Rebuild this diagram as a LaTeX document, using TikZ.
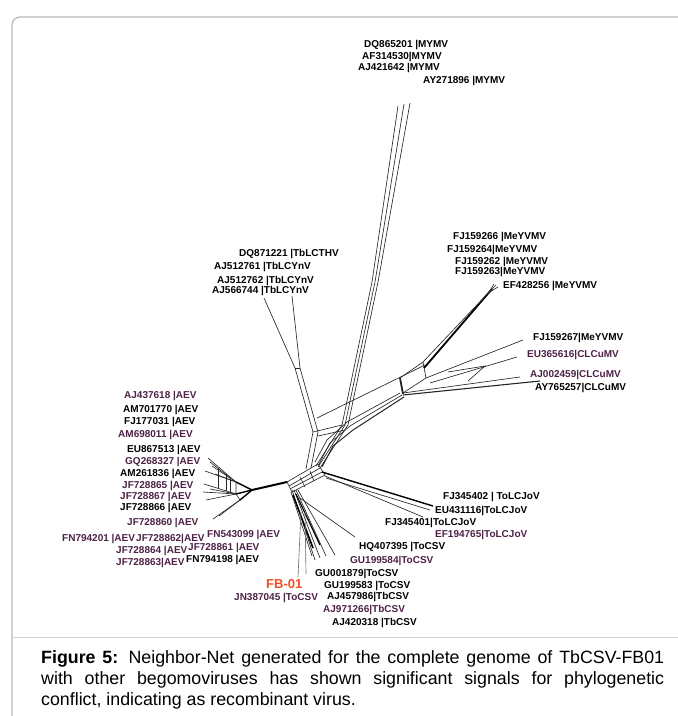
\documentclass[tikz,border=0pt]{standalone}
\usepackage{fontspec}
\usepackage{xcolor}
\usepackage{tikz}
\setmainfont{Liberation Sans}
\definecolor{labpurple}{rgb}{0.30, 0.13, 0.27}
\definecolor{fbred}{rgb}{0.94, 0.31, 0.14}
\definecolor{framegray}{rgb}{0.72, 0.72, 0.72}
\newcommand{\labfont}{\fontsize{10}{11}\selectfont\bfseries}
\tikzset{
    lab/.style = {anchor = west, inner sep = 0pt, font = \labfont},
    labp/.style = {lab, text = labpurple},
    edge/.style = {line width = 0.65pt, black!85},
    thickedge/.style = {line width = 1.4pt, black}
}

\begin{document}
\begin{tikzpicture}[x=1pt, y=-1pt]

    \useasboundingbox (0,0) rectangle (678,716);

    % Frame
    \draw[framegray, line width=1.2pt, rounded corners=8pt] (12,716) -- (12,17) -- (690,17);
    \draw[framegray!60, line width=0.6pt] (12,637) -- (678,637);

    % Centre box
    \draw[edge] (287,482) -- (318,464) -- (325,475) -- (292,492) -- cycle;
    \draw[edge] (289,486) -- (320,468);
    \draw[edge] (290,489) -- (322,472);
    \draw[edge] (300,477) -- (305,487);
    \draw[edge] (310,471) -- (314,481);

    % TbLCYnV / TbLCTHV branch
    \draw[edge] (306,469) -- (313,432) -- (295,368) -- (264,298);
    \draw[edge] (311,468) -- (318,432) -- (300,368) -- (292,296);
    \draw[edge] (295,368) -- (300,368);

    % MYMV branch
    \draw[edge] (316,466) -- (342,425) -- (372,282) -- (398,106);
    \draw[edge] (318,467) -- (345,425) -- (375,282) -- (404,104);
    \draw[edge] (320,468) -- (348,425) -- (378,282) -- (410,103);
    \draw[edge] (313,432) -- (342,425);
    \draw[edge] (318,436) -- (345,430);

    % Main bundle to CLCuMV / MeYVMV
    \draw[edge] (315,462) -- (327,440) -- (347,422) -- (400,393);
    \draw[edge] (319,464) -- (330,443) -- (350,426) -- (402,395);
    \draw[edge, line width=1pt] (322,467) -- (333,446) -- (353,430) -- (404,397);
    \draw[edge] (317,418) -- (425,365);

    % Split box at the junction
    \draw[edge, line width=1.8pt] (400,378) -- (403,394);
    \draw[edge] (400,378) -- (423,362) -- (426,378) -- (403,393);

    % MeYVMV
    \draw[thickedge, line width=1.8pt] (424,368) -- (492,289);
    \draw[edge] (423,362) -- (492,289);
    \draw[edge] (485,296) -- (496,285);
    \draw[edge] (488,294) -- (494,284);
    \draw[edge] (488,293) -- (498,287);

    % CLCuMV
    \draw[edge] (426,378) -- (523,340);
    \draw[edge] (430,383) -- (517,357);
    \draw[edge] (403,393) -- (520,377);
    \draw[edge, line width=1.1pt] (403,395) -- (540,381);
    \draw[edge] (448,372) -- (485,366) -- (468,381);

    % ToLCJoV
    \draw[thickedge] (322,472) -- (433,506);
    \draw[edge] (325,476) -- (423,517);
    \draw[edge] (326,478) -- (430,510);

    % ToCSV / TbCSV
    \draw[edge] (292,490) -- (315,560);
    \draw[edge] (294,490) -- (320,558);
    \draw[edge] (296,490) -- (326,556);
    \draw[edge] (298,490) -- (335,555);
    \draw[edge] (291,492) -- (312,556);
    \draw[thickedge, line width=1.6pt] (293,495) -- (313,548);
    \draw[thickedge, line width=1.2pt] (296,494) -- (320,545);
    \draw[edge] (300,498) -- (355,537);

    % FB-01
    \draw[edge, black!55] (301,512) -- (298,577);
    \draw[edge, black!55] (305,512) -- (306,574);

    % AEV
    \draw[thickedge, line width=2pt] (287,482) -- (252,490);
    \draw[thickedge] (252,490) -- (236,482);
    \draw[thickedge] (252,490) -- (236,494);
    \draw[thickedge] (252,490) -- (240,500);
    \draw[edge] (236,482) -- (208,458);
    \draw[edge] (236,482) -- (212,466);
    \draw[edge] (236,482) -- (205,471);
    \draw[edge] (236,482) -- (215,474);
    \draw[edge] (230,478) -- (210,462);
    \draw[edge] (236,494) -- (204,484);
    \draw[edge] (236,494) -- (203,492);
    \draw[edge] (236,494) -- (206,500);
    \draw[edge] (236,494) -- (210,489);
    \draw[edge] (240,500) -- (213,519);
    \draw[edge] (240,500) -- (219,516);
    \draw[edge] (236,482) -- (236,494) -- (240,500);
    \draw[edge] (226,474) -- (226,491);
    \draw[edge] (218,468) -- (218,489);
    \draw[edge] (230,478) -- (230,493);

    % Labels
    \node[lab] (dq865201) at (364,45) {DQ865201 |MYMV};
    \node[lab] (af314530) at (362,57) {AF314530|MYMV};
    \node[lab] (aj421642) at (358,68) {AJ421642 |MYMV};
    \node[lab] (ay271896) at (423,81) {AY271896 |MYMV};

    \node[lab] (dq871221) at (239,254) {DQ871221 |TbLCTHV};
    \node[lab] (aj512761) at (214,267) {AJ512761 |TbLCYnV};
    \node[lab] (aj512762) at (217,281) {AJ512762 |TbLCYnV};
    \node[lab] (aj566744) at (212,291) {AJ566744 |TbLCYnV};

    \node[lab] (fj159266) at (453,237) {FJ159266 |MeYVMV};
    \node[lab] (fj159264) at (447,250) {FJ159264|MeYVMV};
    \node[lab] (fj159262) at (455,262) {FJ159262 |MeYVMV};
    \node[lab] (fj159263) at (455,272) {FJ159263|MeYVMV};
    \node[lab] (ef428256) at (503,286) {EF428256 |MeYVMV};

    \node[lab] (fj159267) at (533,338) {FJ159267|MeYVMV};
    \node[labp] (eu365616) at (527,355) {EU365616|CLCuMV};
    \node[labp] (aj002459) at (530,375) {AJ002459|CLCuMV};
    \node[lab] (ay765257) at (535,388) {AY765257|CLCuMV};

    \node[labp] (aj437618) at (124,396) {AJ437618 |AEV};
    \node[lab] (am701770) at (123,410) {AM701770 |AEV};
    \node[lab] (fj177031) at (124,422) {FJ177031 |AEV};
    \node[labp] (am698011) at (118,435) {AM698011 |AEV};
    \node[lab] (eu867513) at (127,450) {EU867513 |AEV};
    \node[labp] (gq268327) at (125,462) {GQ268327 |AEV};
    \node[lab] (am261836) at (120,474) {AM261836 |AEV};
    \node[labp] (jf728865) at (122,486) {JF728865 |AEV};
    \node[labp] (jf728867) at (120,497) {JF728867 |AEV};
    \node[lab] (jf728866) at (120,508) {JF728866 |AEV};
    \node[labp] (jf728860) at (127,523) {JF728860 |AEV};
    \node[labp] (fn794201) at (62,539) {FN794201 |AEV};
    \node[labp] (jf728862) at (136,539) {JF728862|AEV};
    \node[labp] (fn543099) at (207,535) {FN543099 |AEV};
    \node[labp] (jf728864) at (116,551) {JF728864 |AEV};
    \node[labp] (jf728861) at (188,548) {JF728861 |AEV};
    \node[labp] (jf728863) at (116,563) {JF728863|AEV};
    \node[lab] (fn794198) at (186,560) {FN794198 |AEV};

    \node[lab] (fj345402) at (443,497) {FJ345402 | ToLCJoV};
    \node[lab] (eu431116) at (435,511) {EU431116|ToLCJoV};
    \node[lab] (fj345401) at (385,523) {FJ345401|ToLCJoV};
    \node[labp] (ef194765) at (435,535) {EF194765|ToLCJoV};
    \node[lab] (hq407395) at (359,547) {HQ407395 |ToCSV};
    \node[labp] (gu199584) at (350,561) {GU199584|ToCSV};
    \node[lab] (gu001879) at (315,574) {GU001879|ToCSV};

    \node[anchor=west, inner sep=0pt, text=fbred, font=\fontsize{13}{15}\selectfont\bfseries] (fb01) at (266,584) {FB-01};
    \node[labp] (jn387045) at (234,598) {JN387045 |ToCSV};
    \node[lab] (gu199583) at (324,586) {GU199583 |ToCSV};
    \node[lab] (aj457986) at (327,597) {AJ457986|TbCSV};
    \node[labp] (aj971266) at (323,610) {AJ971266|TbCSV};
    \node[lab] (aj420318) at (332,623) {AJ420318 |TbCSV};

    % Caption
    \node[anchor=north west, inner sep=0pt, text width=623pt, align=justify,
          font=\fontsize{17.8}{21}\selectfont] (caption) at (41,650)
        {\textbf{Figure 5:} Neighbor-Net generated for the complete genome of \mbox{TbCSV-FB01}\linebreak with other begomoviruses has shown significant signals for phylogenetic\linebreak conflict, indicating as recombinant virus.};

\end{tikzpicture}
\end{document}
